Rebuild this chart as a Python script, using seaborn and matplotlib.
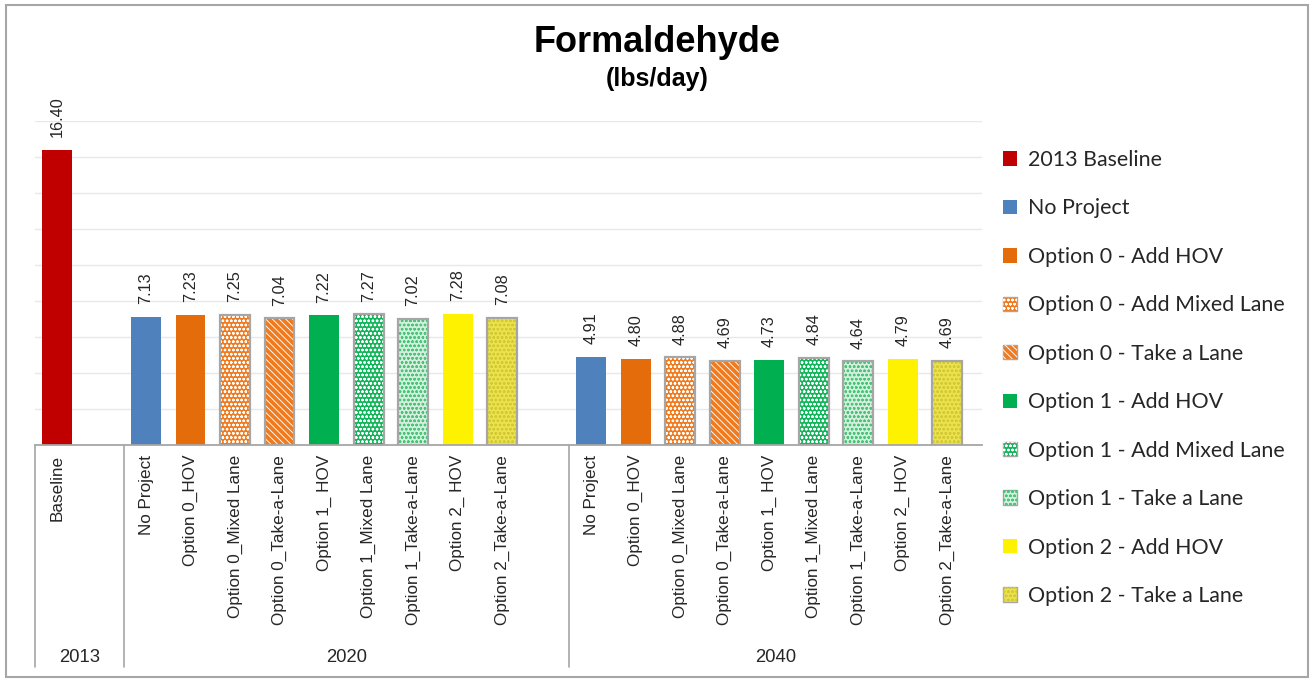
import matplotlib
matplotlib.use("Agg")
import matplotlib.pyplot as plt
import matplotlib.transforms as mtransforms
from matplotlib.patches import Patch, Rectangle
import pandas as pd
import seaborn as sns

# ---- data -------------------------------------------------------------
years = ["2013", "2020", "2040"]
baseline_label = ["Baseline"]
scenario_labels = [
    "No Project", "Option 0_HOV", "Option 0_Mixed Lane", "Option 0_Take-a-Lane",
    "Option 1_ HOV", "Option 1_Mixed Lane", "Option 1_Take-a-Lane",
    "Option 2_ HOV", "Option 2_Take-a-Lane",
]
series_names = [
    "2013 Baseline", "No Project", "Option 0 - Add HOV",
    "Option 0 - Add Mixed Lane", "Option 0 - Take a Lane",
    "Option 1 - Add HOV", "Option 1 - Add Mixed Lane", "Option 1 - Take a Lane",
    "Option 2 - Add HOV", "Option 2 - Take a Lane",
]
baseline_2013 = [16.40]
values_2020 = [7.13, 7.23, 7.25, 7.04, 7.22, 7.27, 7.02, 7.28, 7.08]
values_2040 = [4.91, 4.80, 4.88, 4.69, 4.73, 4.84, 4.64, 4.79, 4.69]

# ---- styling ----------------------------------------------------------
colors = {
    "2013 Baseline": "#C00000",
    "No Project": "#4F81BD",
    "Option 0 - Add HOV": "#E46C0A",
    "Option 0 - Add Mixed Lane": "#F07A1E",
    "Option 0 - Take a Lane": "#F07A1E",
    "Option 1 - Add HOV": "#00B050",
    "Option 1 - Add Mixed Lane": "#12B55A",
    "Option 1 - Take a Lane": "#D2F1DC",
    "Option 2 - Add HOV": "#FFF200",
    "Option 2 - Take a Lane": "#EBE24E",
}
# (hatch pattern, hatch colour) for patterned series
hatches = {
    "Option 0 - Add Mixed Lane": ("oooo", "white"),
    "Option 0 - Take a Lane": ("\\\\\\\\\\", "white"),
    "Option 1 - Add Mixed Lane": ("oooo", "white"),
    "Option 1 - Take a Lane": ("oooo", "#4CC27A"),
    "Option 2 - Take a Lane": ("oooo", "#D2C934"),
}
edge_gray = "#A6A6A6"
text_dark = "#262626"
label_font = ["Liberation Sans", "DejaVu Sans"]
legend_font = ["Lato", "DejaVu Sans"]

sns.set_theme(style="white")
plt.rcParams["font.family"] = ["Liberation Sans", "DejaVu Sans"]
plt.rcParams["hatch.linewidth"] = 0.65

# ---- layout of category slots (one empty slot separates the years) ---
slots = [0] + [2 + i for i in range(9)] + [12 + i for i in range(9)]
values = baseline_2013 + values_2020 + values_2040
series = ["2013 Baseline"] + series_names[1:] + series_names[1:]
tick_labels = baseline_label + scenario_labels + scenario_labels
df = pd.DataFrame({"slot": slots, "value": values, "series": series,
                   "label": tick_labels})

fig = plt.figure(figsize=(13.1, 6.79), dpi=100)
W, H = 1310, 679
ax_left, ax_right, ax_bottom, ax_top = 34.75, 982, 445, 121
ax = fig.add_axes([ax_left / W, 1 - ax_bottom / H,
                   (ax_right - ax_left) / W, (ax_bottom - ax_top) / H])

sns.barplot(data=df, x="slot", y="value", hue="series", hue_order=series_names,
            palette=colors, native_scale=True, dodge=False, width=0.67,
            saturation=1, errorbar=None, legend=False, linewidth=0, ax=ax)

lookup = {s: (n, v) for s, n, v in zip(slots, series, values)}
for p in list(ax.patches):
    xc = p.get_x() + p.get_width() / 2
    s = int(round(xc))
    name, _ = lookup[s]
    if name in hatches:
        hp, hc = hatches[name]
        ax.add_patch(Rectangle(p.get_xy(), p.get_width(), p.get_height(),
                               facecolor="none", edgecolor=hc, hatch=hp,
                               linewidth=0, zorder=p.get_zorder() + 0.1))
        ax.add_patch(Rectangle(p.get_xy(), p.get_width(), p.get_height(),
                               facecolor="none", edgecolor=edge_gray,
                               linewidth=1.6, zorder=p.get_zorder() + 0.2))

# value labels above bars
for s, v in zip(slots, values):
    ax.annotate(f"{v:.2f}", (s, v), xytext=(0, 9), textcoords="offset points",
                rotation=90, ha="center", va="bottom", fontsize=11.7,
                family=label_font, color=text_dark, annotation_clip=False)

ax.set_xlim(-0.5, 20.78)
ax.set_ylim(0, 18)
ax.set_yticks(range(0, 19, 2))
ax.set_yticklabels([])
ax.yaxis.grid(True, color="#E8E8E8", linewidth=1.0)
ax.set_axisbelow(True)
ax.set_xticks(slots)
ax.set_xticklabels(tick_labels, rotation=90, ha="center", va="top",
                   fontsize=12.3, family=label_font, color=text_dark)
ax.tick_params(axis="both", length=0)
ax.tick_params(axis="x", pad=7)
ax.set_xlabel("")
ax.set_ylabel("")
for side in ["left", "right", "top"]:
    ax.spines[side].set_visible(False)
ax.spines["bottom"].set_color(edge_gray)
ax.spines["bottom"].set_linewidth(1.3)

# multi-level category axis: dividers and year labels
trans = mtransforms.blended_transform_factory(ax.transData, ax.transAxes)
depth = -(667 - ax_bottom) / (ax_bottom - ax_top)
for xd in [-0.5, 1.5, 11.5]:
    ax.plot([xd, xd], [0, depth], transform=trans, color=edge_gray,
            linewidth=1.2, clip_on=False)
group_bounds = [(-0.5, 1.5), (1.5, 11.5), (11.5, 20.78)]
label_y = -(657 - ax_bottom) / (ax_bottom - ax_top)
for yr, (a, b) in zip(years, group_bounds):
    ax.text((a + b) / 2, label_y, yr, transform=trans, ha="center",
            va="center", fontsize=13.3, family=label_font, color=text_dark)

# titles
fig.text(0.5015, 1 - 43 / H, "Formaldehyde", ha="center", va="center",
         fontsize=26, fontweight="bold", color="black")
fig.text(0.5015, 1 - 79 / H, "(lbs/day)", ha="center", va="center",
         fontsize=18, fontweight="bold", color="black")

# legend
handles = []
for name in series_names:
    base = Patch(facecolor=colors[name],
                 edgecolor=edge_gray if name in hatches else "none",
                 linewidth=1.0)
    if name in hatches:
        hp, hc = hatches[name]
        handles.append((base, Patch(facecolor="none", edgecolor=hc,
                                    hatch=hp, linewidth=0)))
    else:
        handles.append(base)
fig.legend(handles, series_names, loc="upper left",
           bbox_to_anchor=(1003 / W, 1 - 150 / H), frameon=False,
           prop={"family": legend_font, "size": 15.4}, labelspacing=1.33,
           handlelength=0.65, handleheight=0.65, handletextpad=0.5,
           borderpad=0, borderaxespad=0)

# outer frame
fig.add_artist(Rectangle((6 / W, 1 - 677 / H), (1308 - 6) / W, (677 - 5) / H,
                         transform=fig.transFigure, fill=False,
                         edgecolor=edge_gray, linewidth=1.5))

fig.savefig("out.png", dpi=100)
